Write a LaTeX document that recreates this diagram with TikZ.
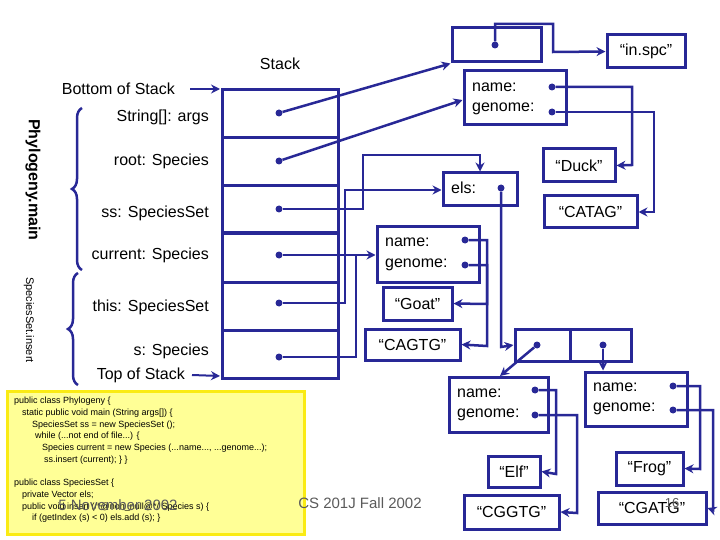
\documentclass[tikz,border=0pt]{standalone}
\usepackage{fontspec}
\setmainfont{Liberation Sans}
\usetikzlibrary{arrows.meta,decorations.pathreplacing}
\definecolor{navy}{RGB}{40,40,150}
\definecolor{codebg}{RGB}{255,255,150}
\definecolor{codeframe}{RGB}{250,235,20}
\definecolor{foot}{RGB}{90,90,90}
\begin{document}
\begin{tikzpicture}[x=1pt,y=-1pt,
  box/.style={draw=navy,line width=3pt,inner sep=0pt},
  lbl/.style={font=\fontsize{16}{18}\selectfont,inner sep=0pt},
  ptr/.style={draw=navy,line width=2.5pt,-{Stealth[length=9pt,width=9pt]}},
  ln/.style={draw=navy,line width=2.5pt},
  dot/.style={fill=navy,circle,inner sep=0pt,minimum size=7pt}]
\useasboundingbox (0,0) rectangle (720,540);

% stack
\draw[navy,line width=3pt] (222,90) rectangle (338,378);
\foreach \y in {138,186,233,282,330} \draw[navy,line width=3pt] (222,\y) -- (338,\y);
\foreach \n/\y in {r1/113,r2/161,r3/209,r4/255,r5/303,r6/357} \node[dot] (\n) at (279,\y) {};
\node[lbl] (stk) at (280,64) {Stack};
\node[lbl,anchor=east] (bot) at (175,89) {Bottom of Stack};
\node[lbl,anchor=east] (top) at (185,375) {Top of Stack};
\coordinate (botA) at (220,89);
\coordinate (topA) at (220,376);
\draw[ptr,line width=2pt] (bot.east)+(15,0) -- (botA);
\draw[ptr,line width=2pt] (top.east)+(7,0) -- (topA);
\foreach \t/\y in {{String[]: args}/117,{root: Species}/161,{ss: SpeciesSet}/213,{current: Species}/255,{this: SpeciesSet}/307,{s: Species}/351}
  \node[lbl,anchor=east] at (209,\y) {\t};
\draw[navy,line width=2.5pt,decorate,decoration={brace,amplitude=10pt}] (82,270) -- (82,108);
\draw[navy,line width=2.5pt,decorate,decoration={brace,amplitude=10pt}] (78,385) -- (78,273);
\node[font=\bfseries\fontsize{16}{18}\selectfont,rotate=-90] (pm) at (33,180) {Phylogeny.main};
\node[font=\fontsize{11}{13}\selectfont,rotate=-90] (si) at (29,320) {SpeciesSet.insert};

% file object
\node[box,minimum width=89pt,minimum height=34pt] (fo) at (496.5,45) {};
\node[dot] (fod) at (495,45) {};
\node[box,lbl,minimum width=78pt,minimum height=33pt] (spc) at (646,51.5) {“in.spc”};
\draw[ptr] (fod) -- (495,24) -- (553,24) -- (553,52) -- (spc.west);
\draw[ptr] (r1) -- (fo.south west);

% root species
\node[box,minimum width=102pt,minimum height=54pt] (sp1) at (515,98) {};
\node[lbl,anchor=west] at (472,87) {name:};
\node[lbl,anchor=west] at (472,109) {genome:};
\node[dot] (n1) at (552,87) {};
\node[dot] (g1) at (552,112) {};
\draw[ptr] (r2) -- (sp1.west |- 0,100);
\node[box,lbl,minimum width=72pt,minimum height=33pt] (duck) at (579,165.5) {“Duck”};
\node[box,lbl,minimum width=93pt,minimum height=32pt] (catag) at (590.5,212) {“CATAG”};
\draw[ptr] (n1) -- (632,87) -- (632,165) -- (duck.east);
\draw[ptr] (g1) -- (654,112) -- (654,212) -- (catag.east);

% species set
\node[box,minimum width=74pt,minimum height=33pt] (ss) at (480,189.5) {};
\node[lbl,anchor=west] at (451,188) {els:};
\node[dot] (els) at (501,188) {};
\draw[ptr] (r3) -- (363,209) -- (363,155) -- (480,155) -- (ss.north);
\draw[ptr] (r5) -- (345,303) -- (345,190) -- (ss.west |- 0,190);

% current species
\node[box,minimum width=102pt,minimum height=55pt] (sp2) at (428,254.5) {};
\node[lbl,anchor=west] at (385,242) {name:};
\node[lbl,anchor=west] at (385,265) {genome:};
\node[dot] (n2) at (465,240) {};
\node[dot] (g2) at (465,265) {};
\draw[ptr] (r4) -- (sp2.west |- 0,255);
\draw[ln] (r6) -- (356,357) -- (356,255);
\node[box,lbl,minimum width=69pt,minimum height=33pt] (goat) at (417.5,303.5) {“Goat”};
\node[box,lbl,minimum width=95pt,minimum height=31pt] (cagtg) at (412.5,344.5) {“CAGTG”};
\draw[ptr] (n2) -- (487,240) -- (487,304) -- (goat.east);
\draw[ptr] (g2) -- (487,265) -- (487,346) -- (cagtg.east);

% vector
\node[box,minimum width=116pt,minimum height=32pt] (vec) at (573,345) {};
\draw[navy,line width=3pt] (570,329) -- (570,361);
\node[dot] (v1) at (537,345) {};
\node[dot] (v2) at (603,345) {};
\draw[ptr] (els) -- (501,347) -- (vec.west);

% Elf species
\node[box,minimum width=99pt,minimum height=55pt] (sp3) at (498.5,404.5) {};
\node[lbl,anchor=west] at (457,393) {name:};
\node[lbl,anchor=west] at (457,415) {genome:};
\node[dot] (n3) at (535,390) {};
\node[dot] (g3) at (535,415) {};
\draw[ptr] (v1) -- (500,376);
\node[box,lbl,minimum width=52pt,minimum height=31pt] (elf) at (514,471.5) {“Elf”};
\node[box,lbl,minimum width=95pt,minimum height=34pt] (cggtg) at (511.5,512) {“CGGTG”};
\draw[ptr] (n3) -- (556,390) -- (556,474) -- (elf.east);
\draw[ptr] (g3) -- (577,415) -- (577,513) -- (cggtg.east);

% Frog species
\node[box,minimum width=102pt,minimum height=54pt] (sp4) at (636,399) {};
\node[lbl,anchor=west] at (593,387) {name:};
\node[lbl,anchor=west] at (593,409) {genome:};
\node[dot] (n4) at (673,386) {};
\node[dot] (g4) at (673,410) {};
\draw[ptr] (v2) -- (sp4.north -| v2);
\node[box,lbl,minimum width=67pt,minimum height=33pt] (frog) at (649.5,468.5) {“Frog”};
\node[box,lbl,minimum width=108pt,minimum height=32pt] (cgatg) at (652,508) {“CGATG”};
\draw[ptr] (n4) -- (700,386) -- (700,469) -- (frog.east);
\draw[ptr] (g4) -- (713,410) -- (713,510) -- (cgatg.east);

% code
\node[draw=codeframe,fill=codebg,line width=3pt,minimum width=297pt,minimum height=143pt,anchor=north west,inner sep=0pt] (code) at (6,390) {};
\node[anchor=north west,align=left,inner sep=0pt,font=\fontsize{9}{11.7}\selectfont] (codetxt) at (14,397) {%
public class Phylogeny \{\\
\hspace*{8pt}static public void main (String args[]) \{\\
\hspace*{18pt}SpeciesSet ss = new SpeciesSet ();\\
\hspace*{21pt}while (...not end of file...) \{\\
\hspace*{28pt}Species current = new Species (...name..., ...genome...);\\
\hspace*{30pt}ss.insert (current); \} \}\\[11.7pt]
public class SpeciesSet \{\\
\hspace*{8pt}private Vector els;\\
\hspace*{8pt}public void insert (/*@non\_null@*/ Species s) \{\\
\hspace*{18pt}if (getIndex (s) < 0) els.add (s); \}};

% footer
\node[font=\fontsize{15}{17}\selectfont,text=foot] (date) at (118,505) {5 November 2002};
\node[font=\fontsize{15}{17}\selectfont,text=foot] (course) at (360,503) {CS 201J Fall 2002};
\node[font=\fontsize{13}{15}\selectfont,text=foot] (page) at (672,503) {16};
\end{tikzpicture}
\end{document}
